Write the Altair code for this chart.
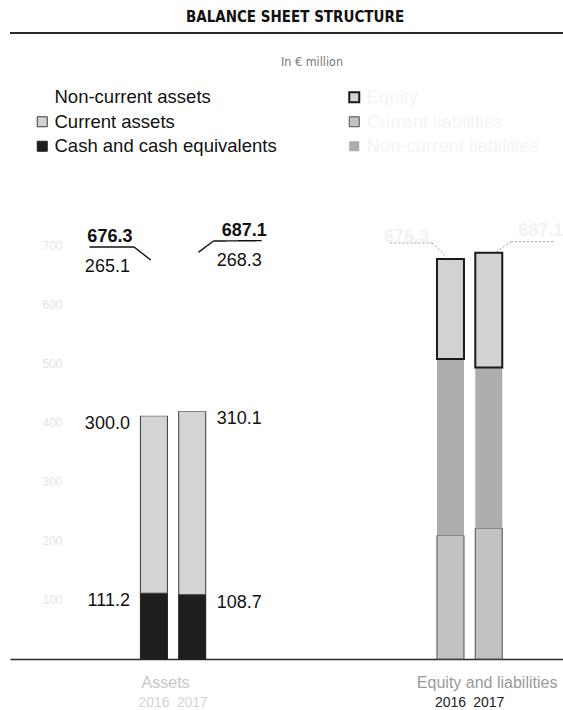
import altair as alt
import pandas as pd

groups = ["Assets", "Equity and liabilities"]
years = ["2016", "2017"]

# Assets side, listed bottom to top of the stack
cash = [111.2, 108.7]
current_assets = [300.0, 310.1]
non_current_assets = [265.1, 268.3]

# Equity and liabilities side, listed bottom to top of the stack
current_liabilities = [209.0, 221.2]
non_current_liabilities = [298.4, 271.8]
equity = [168.9, 194.1]

totals = [676.3, 687.1]

asset_stack = [
    ("Cash and cash equivalents", cash),
    ("Current assets", current_assets),
    ("Non-current assets", non_current_assets),
]
liab_stack = [
    ("Current liabilities", current_liabilities),
    ("Non-current liabilities", non_current_liabilities),
    ("Equity", equity),
]

# horizontal layout: one unit per group, the two years sit side by side
SPREAD = 39 / 302


def slot(gi, yi):
    return gi + (yi - 0.5) * SPREAD


def build_stack(gi, stack):
    rows = []
    for yi, year in enumerate(years):
        base = 0.0
        for si, (name, vals) in enumerate(stack):
            v = vals[yi]
            rows.append(dict(group=groups[gi], year=year, segment=name, value=v,
                             order=si, pos=slot(gi, yi), top=round(base + v, 1)))
            base += v
    return pd.DataFrame(rows)


assets_df = build_stack(0, asset_stack)
liab_df = build_stack(1, liab_stack)
totals_df = pd.DataFrame([
    dict(group=groups[gi], year=year, total=totals[yi], pos=slot(gi, yi))
    for gi in range(len(groups)) for yi, year in enumerate(years)
])
years_df = totals_df[["group", "year", "pos"]].copy()

W, H = 553, 414
FONT = "Liberation Sans"
NARROW = "DejaVu Sans Condensed, Liberation Sans"

x_scale = alt.Scale(domain=[-0.533, 1.298], nice=False, zero=False)
y_scale = alt.Scale(domain=[0, 700], nice=False)

x_axis = alt.Axis(
    values=[0, 1],
    labelExpr="datum.value == 0 ? 'Assets' : 'Equity and liabilities'",
    ticks=False, grid=False,
    domainColor="#2a2a2a", domainWidth=1.6,
    labelFont=FONT, labelFontSize=16, labelPadding=15,
    labelOffset={"condition": {"test": "datum.value == 0", "value": -8}, "value": 17},
    labelColor={"condition": {"test": "datum.value == 0", "value": "#c8c8c8"}, "value": "#9a9a9a"},
)
y_axis = alt.Axis(
    values=[100, 200, 300, 400, 500, 600, 700],
    domain=False, ticks=False, grid=False,
    labelColor="#e4e4e4", labelFont=FONT, labelFontSize=12,
    offset=-54, labelPadding=2,
)


def legend(x, label_color):
    return alt.Legend(
        title=None, orient="none", legendX=x, legendY=-157,
        symbolType="square", symbolSize=100,
        labelFont=FONT, labelFontSize=18.5, labelColor=label_color,
        labelOffset=3, rowPadding=5.5, labelLimit=400,
    )


def stacked_bars(df, domain, fills, strokes, widths, leg):
    return alt.Chart(df).mark_bar(size=27).encode(
        x=alt.X("pos:Q", scale=x_scale, axis=x_axis, title=None),
        y=alt.Y("value:Q", stack="zero", scale=y_scale, axis=y_axis, title=None),
        fill=alt.Fill("segment:N", scale=alt.Scale(domain=domain, range=fills), legend=leg),
        stroke=alt.Stroke("segment:N", scale=alt.Scale(domain=domain, range=strokes), legend=leg),
        strokeWidth=alt.StrokeWidth("segment:N", scale=alt.Scale(type="ordinal", domain=domain, range=widths), legend=leg),
        order=alt.Order("order:Q", sort="ascending"),
    )


asset_bars = stacked_bars(
    assets_df,
    ["Non-current assets", "Current assets", "Cash and cash equivalents"],
    ["#ffffff", "#d4d4d4", "#1e1e1e"],
    ["#ffffff", "#3a3a3a", "#1e1e1e"],
    [0, 1, 1],
    legend(23, "#111111"),
)
liab_bars = stacked_bars(
    liab_df,
    ["Equity", "Current liabilities", "Non-current liabilities"],
    ["#d2d2d2", "#c2c2c2", "#adadad"],
    ["#1a1a1a", "#505050", "#adadad"],
    [2, 1, 0],
    legend(335, "#f4f4f4"),
)

# value labels beside the asset bars: 2016 to the left, 2017 to the right
side = {"2016": dict(align="right", dx=-24), "2017": dict(align="left", dx=24.5)}
total_side = {"2016": dict(align="right", dx=-21.5), "2017": dict(align="left", dx=29.5)}

layers = [asset_bars, liab_bars]

for year in years:
    layers.append(
        alt.Chart(assets_df).transform_filter(alt.datum.year == year).mark_text(
            font=FONT, fontSize=18, color="#111111", baseline="alphabetic", dy=13, **side[year]
        ).encode(x="pos:Q", y="top:Q", text=alt.Text("value:Q", format=".1f"))
    )
    for grp, color in [("Assets", "#111111"), ("Equity and liabilities", "#f2f2f2")]:
        layers.append(
            alt.Chart(totals_df).transform_filter(
                (alt.datum.year == year) & (alt.datum.group == grp)
            ).mark_text(
                font=FONT, fontSize=18, fontWeight="bold", color=color,
                baseline="alphabetic", dy=-17, **total_side[year]
            ).encode(x="pos:Q", y="total:Q", text=alt.Text("total:Q", format=".1f"))
        )

# leader lines from the totals to the bar tops: (x1, y1, x2, y2) pixel offsets
leaders = {
    ("Assets", "2016"): [(-64.5, -12, -19.8, -12), (-19.8, -12, -3.2, 1)],
    ("Assets", "2017"): [(6.2, -0.3, 21.2, -11.6), (21.2, -11.6, 69.5, -12)],
    ("Equity and liabilities", "2016"): [(-60, -16, -18.5, -16), (-18.5, -16, -3.5, -2)],
    ("Equity and liabilities", "2017"): [(7.5, -1, 22.5, -11), (22.5, -11, 64.5, -11)],
}
for (grp, year), segs in leaders.items():
    faint = grp != "Assets"
    for x1, y1, x2, y2 in segs:
        layers.append(
            alt.Chart(totals_df).transform_filter(
                (alt.datum.year == year) & (alt.datum.group == grp)
            ).mark_rule(
                xOffset=x1, yOffset=y1, x2Offset=x2, y2Offset=y2,
                color="#9a9a9a" if faint else "#111111",
                strokeWidth=1 if faint else 1.4,
                strokeDash=[2, 2] if faint else [1, 0],
            ).encode(x="pos:Q", x2=alt.X2("pos"), y="total:Q", y2=alt.Y2("total"))
        )

# year captions under the bars
for grp, color in [("Assets", "#d4d4d4"), ("Equity and liabilities", "#222222")]:
    layers.append(
        alt.Chart(years_df).transform_filter(alt.datum.group == grp).mark_text(
            font=FONT, fontSize=14, color=color, baseline="middle"
        ).encode(x="pos:Q", y=alt.value(H + 44), text="year:N")
    )

# heading, rule and unit line above the legend
title_df = pd.DataFrame({"label": ["BALANCE SHEET STRUCTURE"]})
unit_df = pd.DataFrame({"label": ["In € million"]})
layers.append(
    alt.Chart(title_df).mark_text(
        font=NARROW, fontSize=15, fontWeight="bold", color="#111111", baseline="middle"
    ).encode(text="label:N", x=alt.value(285), y=alt.value(-228))
)
layers.append(
    alt.Chart(title_df).mark_rule(color="#2a2a2a", strokeWidth=1.8).encode(
        x=alt.value(0), x2=alt.value(W), y=alt.value(-212)
    )
)
layers.append(
    alt.Chart(unit_df).mark_text(
        font=NARROW, fontSize=12.5, color="#777777", baseline="middle"
    ).encode(text="label:N", x=alt.value(302), y=alt.value(-183))
)

chart = alt.layer(*layers).resolve_scale(
    fill="independent", stroke="independent", strokeWidth="independent"
).properties(
    width=W, height=H,
    background="white",
    padding={"left": 10, "top": 245, "right": 0, "bottom": 51},
    autosize=alt.AutoSizeParams(type="none"),
).configure_view(strokeWidth=0)

chart.save("out.html", embed_options={"renderer": "svg", "actions": False})
